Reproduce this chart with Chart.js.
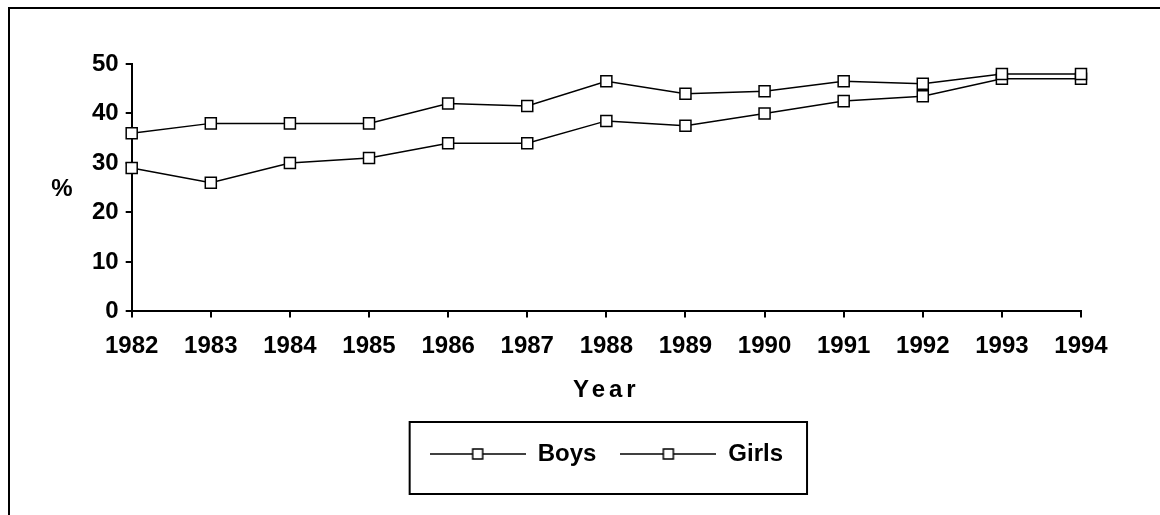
<!DOCTYPE html>
<html>
<head>
<meta charset="utf-8">
<script src="https://cdn.jsdelivr.net/npm/chart.js@4"></script>
<style>
  html, body { margin: 0; padding: 0; background: #fff; }
  #wrap { position: relative; width: 1160px; height: 515px; }
  #frame {
    position: absolute; left: 8px; top: 7px; right: 0; bottom: 0;
    border-top: 2px solid #000; border-left: 2px solid #000;
    pointer-events: none;
  }
</style>
</head>
<body>
<div id="wrap">
  <canvas id="myChart" width="1160" height="515"></canvas>
  <div id="frame"></div>
</div>
<script>
const years = ['1982', '1983', '1984', '1985', '1986', '1987', '1988', '1989', '1990', '1991', '1992', '1993', '1994']
const boys = [36, 38, 38, 38, 42, 41.5, 46.5, 44, 44.5, 46.5, 46, 48, 48]
const girls = [29, 26, 30, 31, 34, 34, 38.5, 37.5, 40, 42.5, 43.5, 47, 47]
const yTicks = [0, 10, 20, 30, 40, 50]

const FONT = { family: 'Liberation Sans, Arial, sans-serif', size: 24, weight: 'bold' }

// legend symbol: line through a small square
const legendSymbol = document.createElement('canvas')
legendSymbol.width = 96
legendSymbol.height = 14
{
    const c = legendSymbol.getContext('2d')
    c.strokeStyle = '#000'
    c.lineWidth = 1.5
    c.beginPath()
    c.moveTo(0, 7)
    c.lineTo(96, 7)
    c.stroke()
    c.fillStyle = '#fff'
    c.fillRect(43, 2, 10, 10)
    c.strokeRect(43, 2, 10, 10)
}

// "%" beside the y axis, written horizontally
const percentLabel = {
    id: 'percentLabel',
    afterDraw(chart) {
        const { ctx, chartArea } = chart
        ctx.save()
        ctx.font = 'bold 24px "Liberation Sans", Arial, sans-serif'
        ctx.fillStyle = '#000'
        ctx.textAlign = 'center'
        ctx.textBaseline = 'middle'
        ctx.fillText('%', 62, (chartArea.top + chartArea.bottom) / 2 + 2)
        ctx.restore()
    }
}

// centre the legend under the plot area, then box it
// (the legend plugin re-places its hit boxes itself in afterUpdate)
const legendBox = {
    id: 'legendBox',
    afterLayout(chart) {
        const l = chart.legend
        const ca = chart.chartArea
        const shift = ((ca.left + ca.right) - (l.left + l.right)) / 2
        l.left += shift
        l.right += shift
    },
    afterDraw(chart) {
        const hb = chart.legend.legendHitBoxes
        if (!hb || !hb.length) return
        const last = hb[hb.length - 1]
        const cy = hb[0].top + hb[0].height / 2
        const left = hb[0].left - 20
        const right = last.left + last.width + 24
        const ctx = chart.ctx
        ctx.save()
        ctx.strokeStyle = '#000'
        ctx.lineWidth = 2
        ctx.strokeRect(left, cy - 32, right - left, 72)
        ctx.restore()
    }
}

// spaced out letters for the x axis title
const spacedTitle = {
    id: 'spacedTitle',
    afterUpdate(chart) {
        const s = chart.scales.x
        if (s && !s._spaced) {
            const orig = s.drawTitle.bind(s)
            s.drawTitle = function () {
                const ctx = this.ctx
                ctx.save()
                ctx.letterSpacing = '4px'
                orig()
                ctx.restore()
            }
            s._spaced = true
        }
    }
}

const ctx = document.getElementById('myChart').getContext('2d')
const myChart = new Chart(ctx, {
    type: 'line',
    data: {
        labels: years,
        datasets: [{
            label: 'Boys',
            data: boys,
            borderColor: '#000',
            borderWidth: 1.5,
            pointStyle: 'rect',
            pointRadius: 7.8,
            pointBackgroundColor: '#fff',
            pointBorderColor: '#000',
            pointBorderWidth: 1.5,
            tension: 0
        }, {
            label: 'Girls',
            data: girls,
            borderColor: '#000',
            borderWidth: 1.5,
            pointStyle: 'rect',
            pointRadius: 7.8,
            pointBackgroundColor: '#fff',
            pointBorderColor: '#000',
            pointBorderWidth: 1.5,
            tension: 0
        }]
    },
    options: {
        responsive: false,
        animation: false,
        layout: {
            padding: { left: 85, right: 79, top: 64, bottom: 39 }
        },
        scales: {
            x: {
                offset: false,
                grid: { drawOnChartArea: false, color: '#000', tickLength: 6, lineWidth: 2 },
                border: { color: '#000', width: 2 },
                ticks: { color: '#000', font: FONT, padding: 15, maxRotation: 0, autoSkip: false },
                title: { display: true, text: 'Year', color: '#000', font: FONT, padding: { top: 0, bottom: 13 } }
            },
            y: {
                min: 0,
                max: 50,
                afterBuildTicks: axis => { axis.ticks = yTicks.map(v => ({ value: v })) },
                grid: { drawOnChartArea: false, color: '#000', tickLength: 6, lineWidth: 2 },
                border: { color: '#000', width: 2 },
                ticks: { color: '#000', font: FONT, padding: 7 }
            }
        },
        plugins: {
            title: { display: false },
            tooltip: { enabled: false },
            legend: {
                display: true,
                position: 'bottom',
                labels: {
                    color: '#000',
                    font: FONT,
                    usePointStyle: true,
                    pointStyleWidth: 96,
                    padding: 24,
                    generateLabels(chart) {
                        return chart.data.datasets.map((ds, i) => ({
                            text: ds.label,
                            pointStyle: legendSymbol,
                            fontColor: '#000',
                            datasetIndex: i,
                            hidden: false,
                            lineWidth: 0
                        }))
                    }
                }
            }
        }
    },
    plugins: [percentLabel, legendBox, spacedTitle]
})
</script>
</body>
</html>
